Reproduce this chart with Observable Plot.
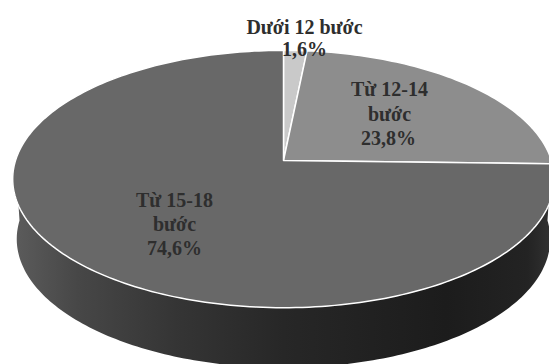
<!DOCTYPE html>
<html>
<head>
<meta charset="utf-8">
<script src="https://cdn.jsdelivr.net/npm/d3@7"></script>
<script src="https://cdn.jsdelivr.net/npm/@observablehq/plot@0.6"></script>
<style>
  html, body { margin: 0; padding: 0; background: #fff; }
  svg { display: block; }
</style>
</head>
<body>
<div id="chart"></div>
<script>
// Share of each step-length group, in percent, clockwise from twelve o'clock.
const categories = ["Dưới 12 bước", "Từ 12-14 bước", "Từ 15-18 bước"];
const shares = [1.6, 23.8, 74.6];
const shareLabels = ["1,6%", "23,8%", "74,6%"];
const shades = ["#c9c9c9", "#8d8d8d", "#686868"];

const W = 549, H = 364;

// Tilted disc: a unit circle seen in perspective, the hub sits off the ellipse centre.
const hub = {x: 283, y: 160}, spanX = 268, spanY = 126, tilt = 0.144, depth = 60;
function project(turn, r = 1, drop = 0) {
  const a = turn * 2 * Math.PI;
  const u = r * Math.sin(a), v = -r * Math.cos(a);
  const w = 1 - tilt * v;
  const shrink = drop ? 0.985 : 1;
  return {x: hub.x + shrink * spanX * u / w, y: hub.y + drop + spanY * v / w};
}

// Outline of each slice, built from its share.
let running = 0;
const outlines = [];
categories.forEach((name, i) => {
  const start = running / 100, end = (running + shares[i]) / 100;
  running += shares[i];
  outlines.push({name, ...project(0, 0)});
  const steps = Math.max(4, Math.ceil(shares[i] * 3));
  for (let k = 0; k <= steps; k++) {
    outlines.push({name, ...project(start + (end - start) * k / steps)});
  }
  outlines.push({name, ...project(0, 0)});
});

// Visible rim: front half of the top edge, returning along the bottom edge.
const rimTurns = d3.range(0, 181).map(k => 0.25 + 0.5 * k / 180);
const rim = [
  ...rimTurns.map(t => project(t)),
  ...rimTurns.slice().reverse().map(t => project(t, 1, depth))
];

// Horizontal shading of the rim.
const rimGradient = () => {
  const svg = d3.create("svg:g");
  const g = svg.append("defs").append("linearGradient")
    .attr("id", "rim-shade").attr("x1", 0).attr("x2", 1).attr("y1", 0).attr("y2", 0);
  [[0, "#5c5c5c"], [0.12, "#474747"], [0.3, "#353535"], [0.5, "#272727"],
   [0.8, "#1c1c1c"], [0.95, "#232323"], [1, "#333333"]]
    .forEach(([o, c]) => g.append("stop").attr("offset", o).attr("stop-color", c));
  return svg.node();
};

// Label blocks; the line breaks follow the category names.
const labelLines = [
  {text: "Dưới 12 bước", x: 304, y: 27},
  {text: shareLabels[0], x: 304, y: 49},
  {text: "Từ 12-14", x: 389, y: 89},
  {text: "bước", x: 389, y: 114},
  {text: shareLabels[1], x: 388, y: 138},
  {text: "Từ 15-18", x: 174, y: 200},
  {text: "bước", x: 174, y: 224},
  {text: shareLabels[2], x: 174, y: 248}
];

const chart = Plot.plot({
  width: W,
  height: H,
  margin: 0,
  style: {background: "#fff"},
  x: {axis: null, domain: [0, W], range: [0, W]},
  y: {axis: null, domain: [0, H], range: [0, H]},
  color: {domain: categories, range: shades},
  marks: [
    rimGradient,
    Plot.line(rim, {x: "x", y: "y", fill: "url(#rim-shade)", stroke: "none", curve: "linear"}),
    Plot.line(outlines, {
      x: "x", y: "y", z: "name", fill: "name",
      stroke: "#fff", strokeWidth: 1.5, strokeLinejoin: "round", curve: "linear"
    }),
    Plot.text(labelLines, {
      x: "x", y: "y", text: "text", fill: "#2e2e2e",
      fontFamily: "Liberation Serif", fontWeight: "bold", fontSize: 20
    })
  ]
});
document.getElementById("chart").append(chart);
</script>
</body>
</html>
